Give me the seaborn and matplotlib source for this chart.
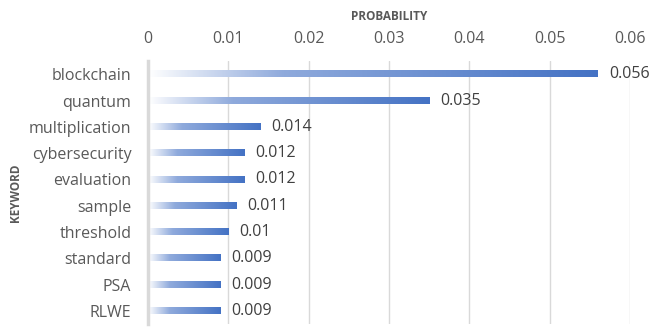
import numpy as np
import pandas as pd
import matplotlib
matplotlib.use("Agg")
import matplotlib.pyplot as plt
import seaborn as sns
from matplotlib.colors import LinearSegmentedColormap

keywords = ["blockchain", "quantum", "multiplication", "cybersecurity", "evaluation",
            "sample", "threshold", "standard", "PSA", "RLWE"]
probability = [0.056, 0.035, 0.014, 0.012, 0.012, 0.011, 0.01, 0.009, 0.009, 0.009]
value_labels = ["0.056", "0.035", "0.014", "0.012", "0.012", "0.011", "0.01", "0.009", "0.009", "0.009"]
xticks = [0, 0.01, 0.02, 0.03, 0.04, 0.05, 0.06]
xtick_labels = ["0", "0.01", "0.02", "0.03", "0.04", "0.05", "0.06"]

df = pd.DataFrame({"keyword": keywords, "probability": probability})

sns.set_style("white")
plt.rcParams['font.family'] = ['Open Sans', 'DejaVu Sans']

fig = plt.figure(figsize=(6.53, 3.27), dpi=100)
ax = fig.add_axes([0.2266, 0.009, 0.7382, 0.804])

sns.barplot(data=df, x="probability", y="keyword", orient="h", ax=ax,
            width=0.24, color="#4472C4", edgecolor="none")

cmap = LinearSegmentedColormap.from_list(
    "grad", [(0.0, "#FFFFFF"), (0.3, "#8FAADC"), (1.0, "#4472C4")])
grad = np.linspace(0, 1, 256).reshape(1, -1)
for patch in ax.patches:
    x0, y0 = patch.get_x(), patch.get_y()
    w, h = patch.get_width(), patch.get_height()
    patch.set_facecolor("none")
    ax.imshow(grad, cmap=cmap, extent=[x0, x0 + w, y0 + h, y0], aspect="auto",
              zorder=3, interpolation="bicubic")

ax.set_xlim(0, 0.06)
ax.set_ylim(9.5, -0.5)

for i, (v, lab) in enumerate(zip(probability, value_labels)):
    ax.text(v + 0.0014, i, lab, va="center", ha="left", fontsize=11.5, color="#404040", zorder=4)

ax.xaxis.tick_top()
ax.xaxis.set_label_position("top")
ax.set_xticks(xticks)
ax.set_xticklabels(xtick_labels)
ax.tick_params(axis="x", length=0, pad=10, labelsize=11.5, labelcolor="#595959")
ax.tick_params(axis="y", length=0, pad=12, labelsize=11.5, labelcolor="#595959")
ax.grid(axis="x", color="#D9D9D9", linewidth=1, zorder=0)
ax.set_axisbelow(True)

for s in ["top", "right", "bottom"]:
    ax.spines[s].set_visible(False)
ax.spines["left"].set_color("#D9D9D9")
ax.spines["left"].set_linewidth(2.5)
ax.spines["left"].set_zorder(5)

ax.set_xlabel("PROBABILITY", fontsize=8.5, fontweight="bold", color="#595959")
ax.set_ylabel("KEYWORD", fontsize=8.5, fontweight="bold", color="#595959")
ax.yaxis.set_label_coords(-0.275, 0.5)
ax.xaxis.set_label_coords(0.5, 1.17)
ax.xaxis.label.set_va("center")
ax.yaxis.label.set_va("center")

fig.savefig("out.png", dpi=100)
